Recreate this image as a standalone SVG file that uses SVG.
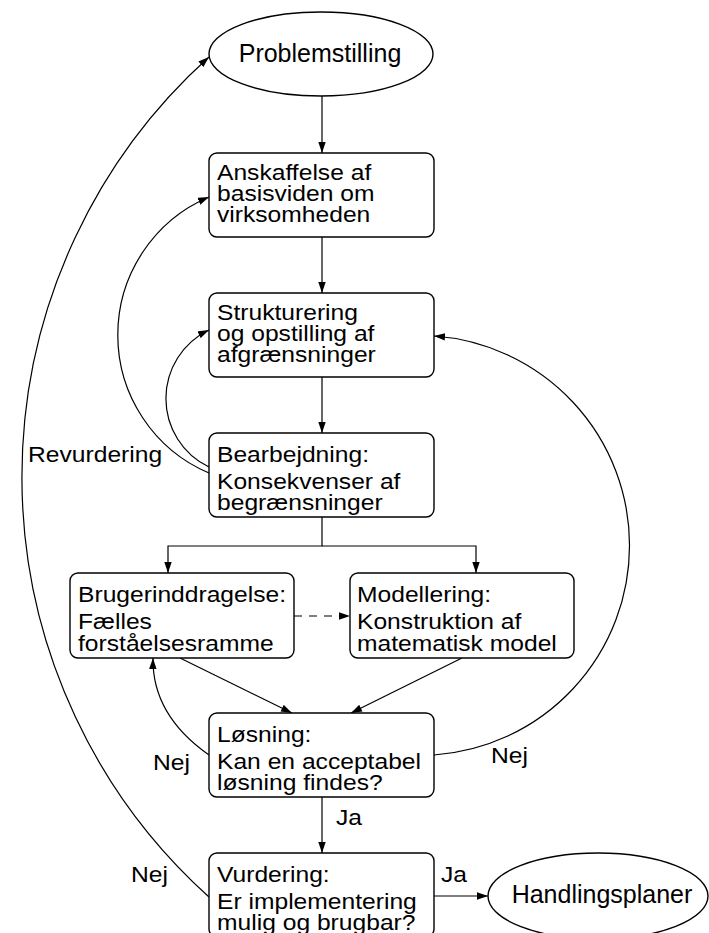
<svg xmlns="http://www.w3.org/2000/svg" width="709" height="933" viewBox="0 0 709 933">
  <style>
    .box { fill: #fff; stroke: #000; stroke-width: 1.4; }
    .oval { fill: #fff; stroke: #000; stroke-width: 1.4; }
    .t { font-family: "Liberation Sans", Arial, Helvetica, sans-serif; font-size: 22px; fill: #000; }
    .big { font-family: "Liberation Sans", Arial, Helvetica, sans-serif; font-size: 25px; fill: #000; text-anchor: middle; }
    .edge { fill: none; stroke: #000; stroke-width: 1.2; }
    .arr { marker-end: url(#ah); }
    .dash { stroke-dasharray: 8 7; }
  </style>
  <defs>
    <marker id="ah" markerUnits="userSpaceOnUse" markerWidth="11" markerHeight="8" refX="11" refY="4" orient="auto">
      <path d="M0,0.3 L11,4 L0,7.7 z" fill="#000"/>
    </marker>
  </defs>
  <rect width="709" height="933" fill="#fff"/>

  <!-- connectors -->
  <g id="connectors">
    <path class="edge arr" d="M322,96 V153"/>
    <path class="edge arr" d="M322,237 V293"/>
    <path class="edge arr" d="M322,377 V433"/>
    <path class="edge arr" d="M322,517 V546 H168 V573"/>
    <path class="edge arr" d="M322,546 H476 V573"/>
    <path class="edge arr dash" d="M294,616 H350"/>
    <path class="edge arr" d="M180,658 L292,713"/>
    <path class="edge arr" d="M462,658 L351,713"/>
    <path class="edge arr" d="M322,797 V853"/>
    <path class="edge arr" d="M434,896 H488"/>
    <!-- feedback loops -->
    <path class="edge arr" d="M209,473 A150,150 0 0 1 209,197"/>
    <path class="edge arr" d="M209,467 A76,76 0 0 1 209,330"/>
    <path class="edge arr" d="M209,755 Q152,715 153,658"/>
    <path class="edge arr" d="M434,755 A210,210 0 0 0 434,336"/>
    <path class="edge arr" d="M209,897 A565,565 0 0 1 209,57"/>
    <!-- edge labels -->
    <g class="t">
      <text transform="translate(28,0) scale(1.12,1)" y="462">Revurdering</text>
      <text transform="translate(153,0) scale(1.12,1)" y="770">Nej</text>
      <text transform="translate(491,0) scale(1.12,1)" y="763">Nej</text>
      <text transform="translate(131,0) scale(1.12,1)" y="882">Nej</text>
      <text transform="translate(336,0) scale(1.12,1)" y="825">Ja</text>
      <text transform="translate(441,0) scale(1.12,1)" y="882">Ja</text>
    </g>
  </g>

  <g id="problemstilling">
    <ellipse class="oval" cx="321" cy="54" rx="112" ry="42"/>
    <text class="big" x="320" y="62">Problemstilling</text>
  </g>

  <g id="anskaffelse">
    <rect class="box" x="209" y="153" width="225" height="84" rx="8"/>
    <text class="t" transform="translate(217,0) scale(1.12,1)">
      <tspan x="0" y="180">Anskaffelse af</tspan>
      <tspan x="0" y="201.5">basisviden om</tspan>
      <tspan x="0" y="222">virksomheden</tspan>
    </text>
  </g>

  <g id="strukturering">
    <rect class="box" x="209" y="293" width="225" height="84" rx="8"/>
    <text class="t" transform="translate(217,0) scale(1.12,1)">
      <tspan x="0" y="320">Strukturering</tspan>
      <tspan x="0" y="341.5">og opstilling af</tspan>
      <tspan x="0" y="362">afgrænsninger</tspan>
    </text>
  </g>

  <g id="bearbejdning">
    <rect class="box" x="209" y="433" width="225" height="84" rx="8"/>
    <text class="t" transform="translate(217,0) scale(1.12,1)">
      <tspan x="0" y="462">Bearbejdning:</tspan>
      <tspan x="0" y="489">Konsekvenser af</tspan>
      <tspan x="0" y="510">begrænsninger</tspan>
    </text>
  </g>

  <g id="brugerinddragelse">
    <rect class="box" x="70" y="573" width="224" height="85" rx="8"/>
    <text class="t" transform="translate(78,0) scale(1.12,1)">
      <tspan x="0" y="602">Brugerinddragelse:</tspan>
      <tspan x="0" y="629">Fælles</tspan>
      <tspan x="0" y="651">forståelsesramme</tspan>
    </text>
  </g>

  <g id="modellering">
    <rect class="box" x="350" y="573" width="224" height="85" rx="8"/>
    <text class="t" transform="translate(357,0) scale(1.12,1)">
      <tspan x="0" y="602">Modellering:</tspan>
      <tspan x="0" y="629">Konstruktion af</tspan>
      <tspan x="0" y="651">matematisk model</tspan>
    </text>
  </g>

  <g id="loesning">
    <rect class="box" x="209" y="713" width="225" height="84" rx="8"/>
    <text class="t" transform="translate(217,0) scale(1.12,1)">
      <tspan x="0" y="742">Løsning:</tspan>
      <tspan x="0" y="769">Kan en acceptabel</tspan>
      <tspan x="0" y="790">løsning findes?</tspan>
    </text>
  </g>

  <g id="vurdering">
    <rect class="box" x="209" y="853" width="225" height="84" rx="8"/>
    <text class="t" transform="translate(217,0) scale(1.12,1)">
      <tspan x="0" y="882">Vurdering:</tspan>
      <tspan x="0" y="909">Er implementering</tspan>
      <tspan x="0" y="930">mulig og brugbar?</tspan>
    </text>
  </g>

  <g id="handlingsplaner">
    <ellipse class="oval" cx="598" cy="896" rx="110" ry="43"/>
    <text class="big" x="602" y="903">Handlingsplaner</text>
  </g>
</svg>
